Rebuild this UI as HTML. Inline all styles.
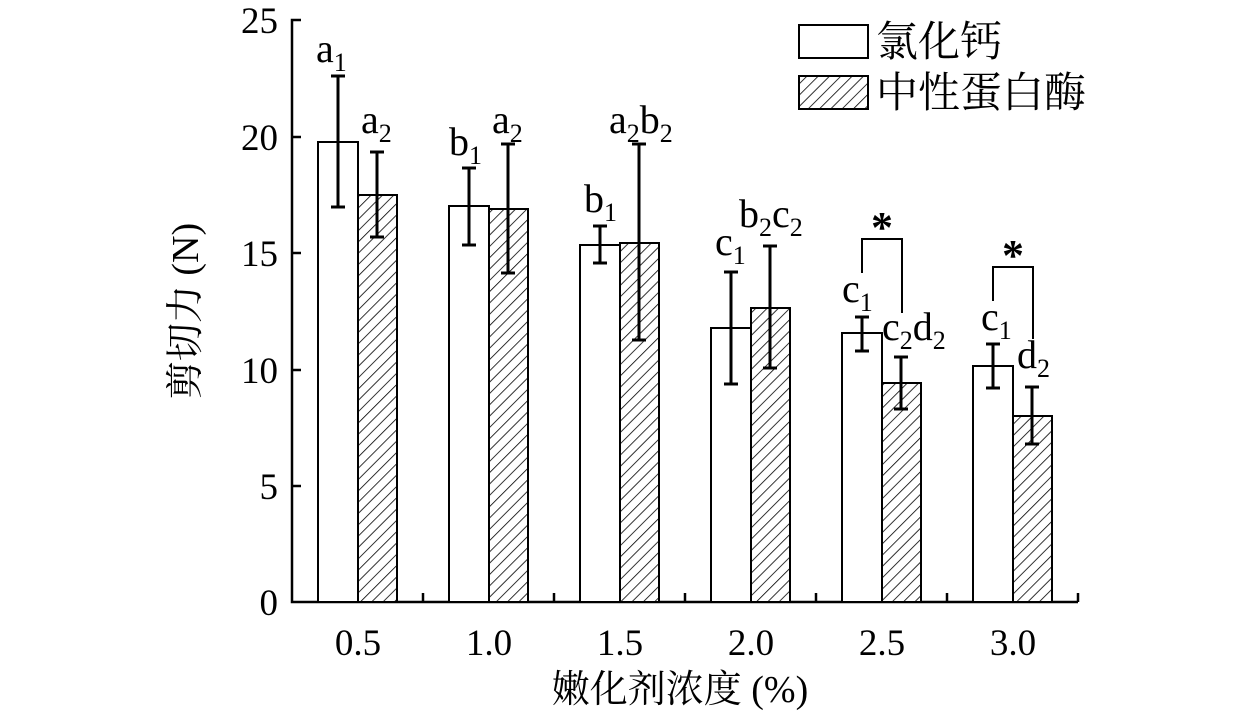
<!DOCTYPE html>
<html><head><meta charset="utf-8"><style>body{margin:0;background:#fff}svg{display:block}</style></head>
<body>
<svg width="1260" height="720" viewBox="0 0 1260 720" xmlns="http://www.w3.org/2000/svg" font-family="Liberation Serif, Noto Serif CJK SC, serif">
<defs>
<pattern id="h" patternUnits="userSpaceOnUse" width="8" height="8" patternTransform="rotate(45)">
<rect width="8" height="8" fill="#fff"/><line x1="0" y1="0" x2="0" y2="8" stroke="#000" stroke-width="1.6"/>
</pattern>
</defs>
<g stroke="#000" stroke-width="2.5" fill="none">
<polyline points="301,20 292,20 292,602 1078,602"/>
<line x1="292" y1="137" x2="301" y2="137"/><line x1="292" y1="253" x2="301" y2="253"/>
<line x1="292" y1="370" x2="301" y2="370"/><line x1="292" y1="486" x2="301" y2="486"/>
<line x1="423" y1="602" x2="423" y2="593"/><line x1="554" y1="602" x2="554" y2="593"/><line x1="685" y1="602" x2="685" y2="593"/><line x1="816" y1="602" x2="816" y2="593"/><line x1="947" y1="602" x2="947" y2="593"/><line x1="1078" y1="602" x2="1078" y2="593"/>
</g>
<g stroke="#000" stroke-width="2">
<rect x="318" y="142" width="40" height="460" fill="#fff"/><rect x="358" y="195" width="39" height="407" fill="url(#h)"/>
<rect x="449" y="206" width="40" height="396" fill="#fff"/><rect x="489" y="209" width="39" height="393" fill="url(#h)"/>
<rect x="580" y="245" width="40" height="357" fill="#fff"/><rect x="620" y="243" width="39" height="359" fill="url(#h)"/>
<rect x="711" y="328" width="40" height="274" fill="#fff"/><rect x="751" y="308" width="39" height="294" fill="url(#h)"/>
<rect x="842" y="333" width="40" height="269" fill="#fff"/><rect x="882" y="383" width="39" height="219" fill="url(#h)"/>
<rect x="973" y="366" width="40" height="236" fill="#fff"/><rect x="1013" y="416" width="39" height="186" fill="url(#h)"/>
</g>
<g stroke="#000" stroke-width="3" fill="none">
<path d="M338,76V207M331,76h14M331,207h14"/>
<path d="M377,152V237M370,152h14M370,237h14"/>
<path d="M469,168V245M462,168h14M462,245h14"/>
<path d="M508,144V273M501,144h14M501,273h14"/>
<path d="M600,226V263M593,226h14M593,263h14"/>
<path d="M639,144V340M632,144h14M632,340h14"/>
<path d="M731,272V384M724,272h14M724,384h14"/>
<path d="M770,246V368M763,246h14M763,368h14"/>
<path d="M862,317V351M855,317h14M855,351h14"/>
<path d="M901,357V409M894,357h14M894,409h14"/>
<path d="M993,344V388M986,344h14M986,388h14"/>
<path d="M1032,387V444M1025,387h14M1025,444h14"/>
</g>
<g stroke="#000" stroke-width="2" fill="none">
<polyline points="862,273 862,239 902,239 902,313"/>
<polyline points="993,301 993,267 1033,267 1033,339"/>
</g>
<g font-size="37" text-anchor="end">
<text x="278" y="33">25</text><text x="278" y="150">20</text><text x="278" y="266">15</text><text x="278" y="383">10</text><text x="278" y="499">5</text><text x="278" y="615">0</text>
</g>
<g font-size="37" text-anchor="middle">
<text x="358" y="655">0.5</text><text x="489" y="655">1.0</text><text x="620" y="655">1.5</text><text x="751" y="655">2.0</text><text x="882" y="655">2.5</text><text x="1013" y="655">3.0</text>
</g>
<g font-size="40">
<text x="316" y="62">a<tspan font-size="26" dy="9">1</tspan></text>
<text x="361" y="133">a<tspan font-size="26" dy="9">2</tspan></text>
<text x="449" y="155">b<tspan font-size="26" dy="9">1</tspan></text>
<text x="492" y="133">a<tspan font-size="26" dy="9">2</tspan></text>
<text x="584" y="212">b<tspan font-size="26" dy="9">1</tspan></text>
<text x="609" y="133">a<tspan font-size="26" dy="9">2</tspan><tspan dy="-9">b</tspan><tspan font-size="26" dy="9">2</tspan></text>
<text x="715" y="255">c<tspan font-size="26" dy="9">1</tspan></text>
<text x="739" y="227">b<tspan font-size="26" dy="9">2</tspan><tspan dy="-9">c</tspan><tspan font-size="26" dy="9">2</tspan></text>
<text x="842" y="302">c<tspan font-size="26" dy="9">1</tspan></text>
<text x="882" y="340">c<tspan font-size="26" dy="9">2</tspan><tspan dy="-9">d</tspan><tspan font-size="26" dy="9">2</tspan></text>
<text x="981" y="330">c<tspan font-size="26" dy="9">1</tspan></text>
<text x="1017" y="368">d<tspan font-size="26" dy="9">2</tspan></text>
</g>
<g font-size="44" font-weight="bold" text-anchor="middle"><text x="882" y="242">*</text><text x="1013" y="270">*</text></g>
<rect x="799" y="25" width="69" height="33" fill="#fff" stroke="#000" stroke-width="2"/>
<rect x="799" y="76" width="69" height="33" fill="url(#h)" stroke="#000" stroke-width="2"/>
<g font-size="42" font-family="Noto Serif CJK SC, serif">
<text x="876" y="56">氯化钙</text>
<text x="876" y="107">中性蛋白酶</text>
</g>
<text x="680" y="702" font-size="38" text-anchor="middle">嫩化剂浓度 (%)</text>
<text transform="translate(198,311) rotate(-90)" font-size="38" text-anchor="middle">剪切力 (N)</text>
</svg>
</body></html>
